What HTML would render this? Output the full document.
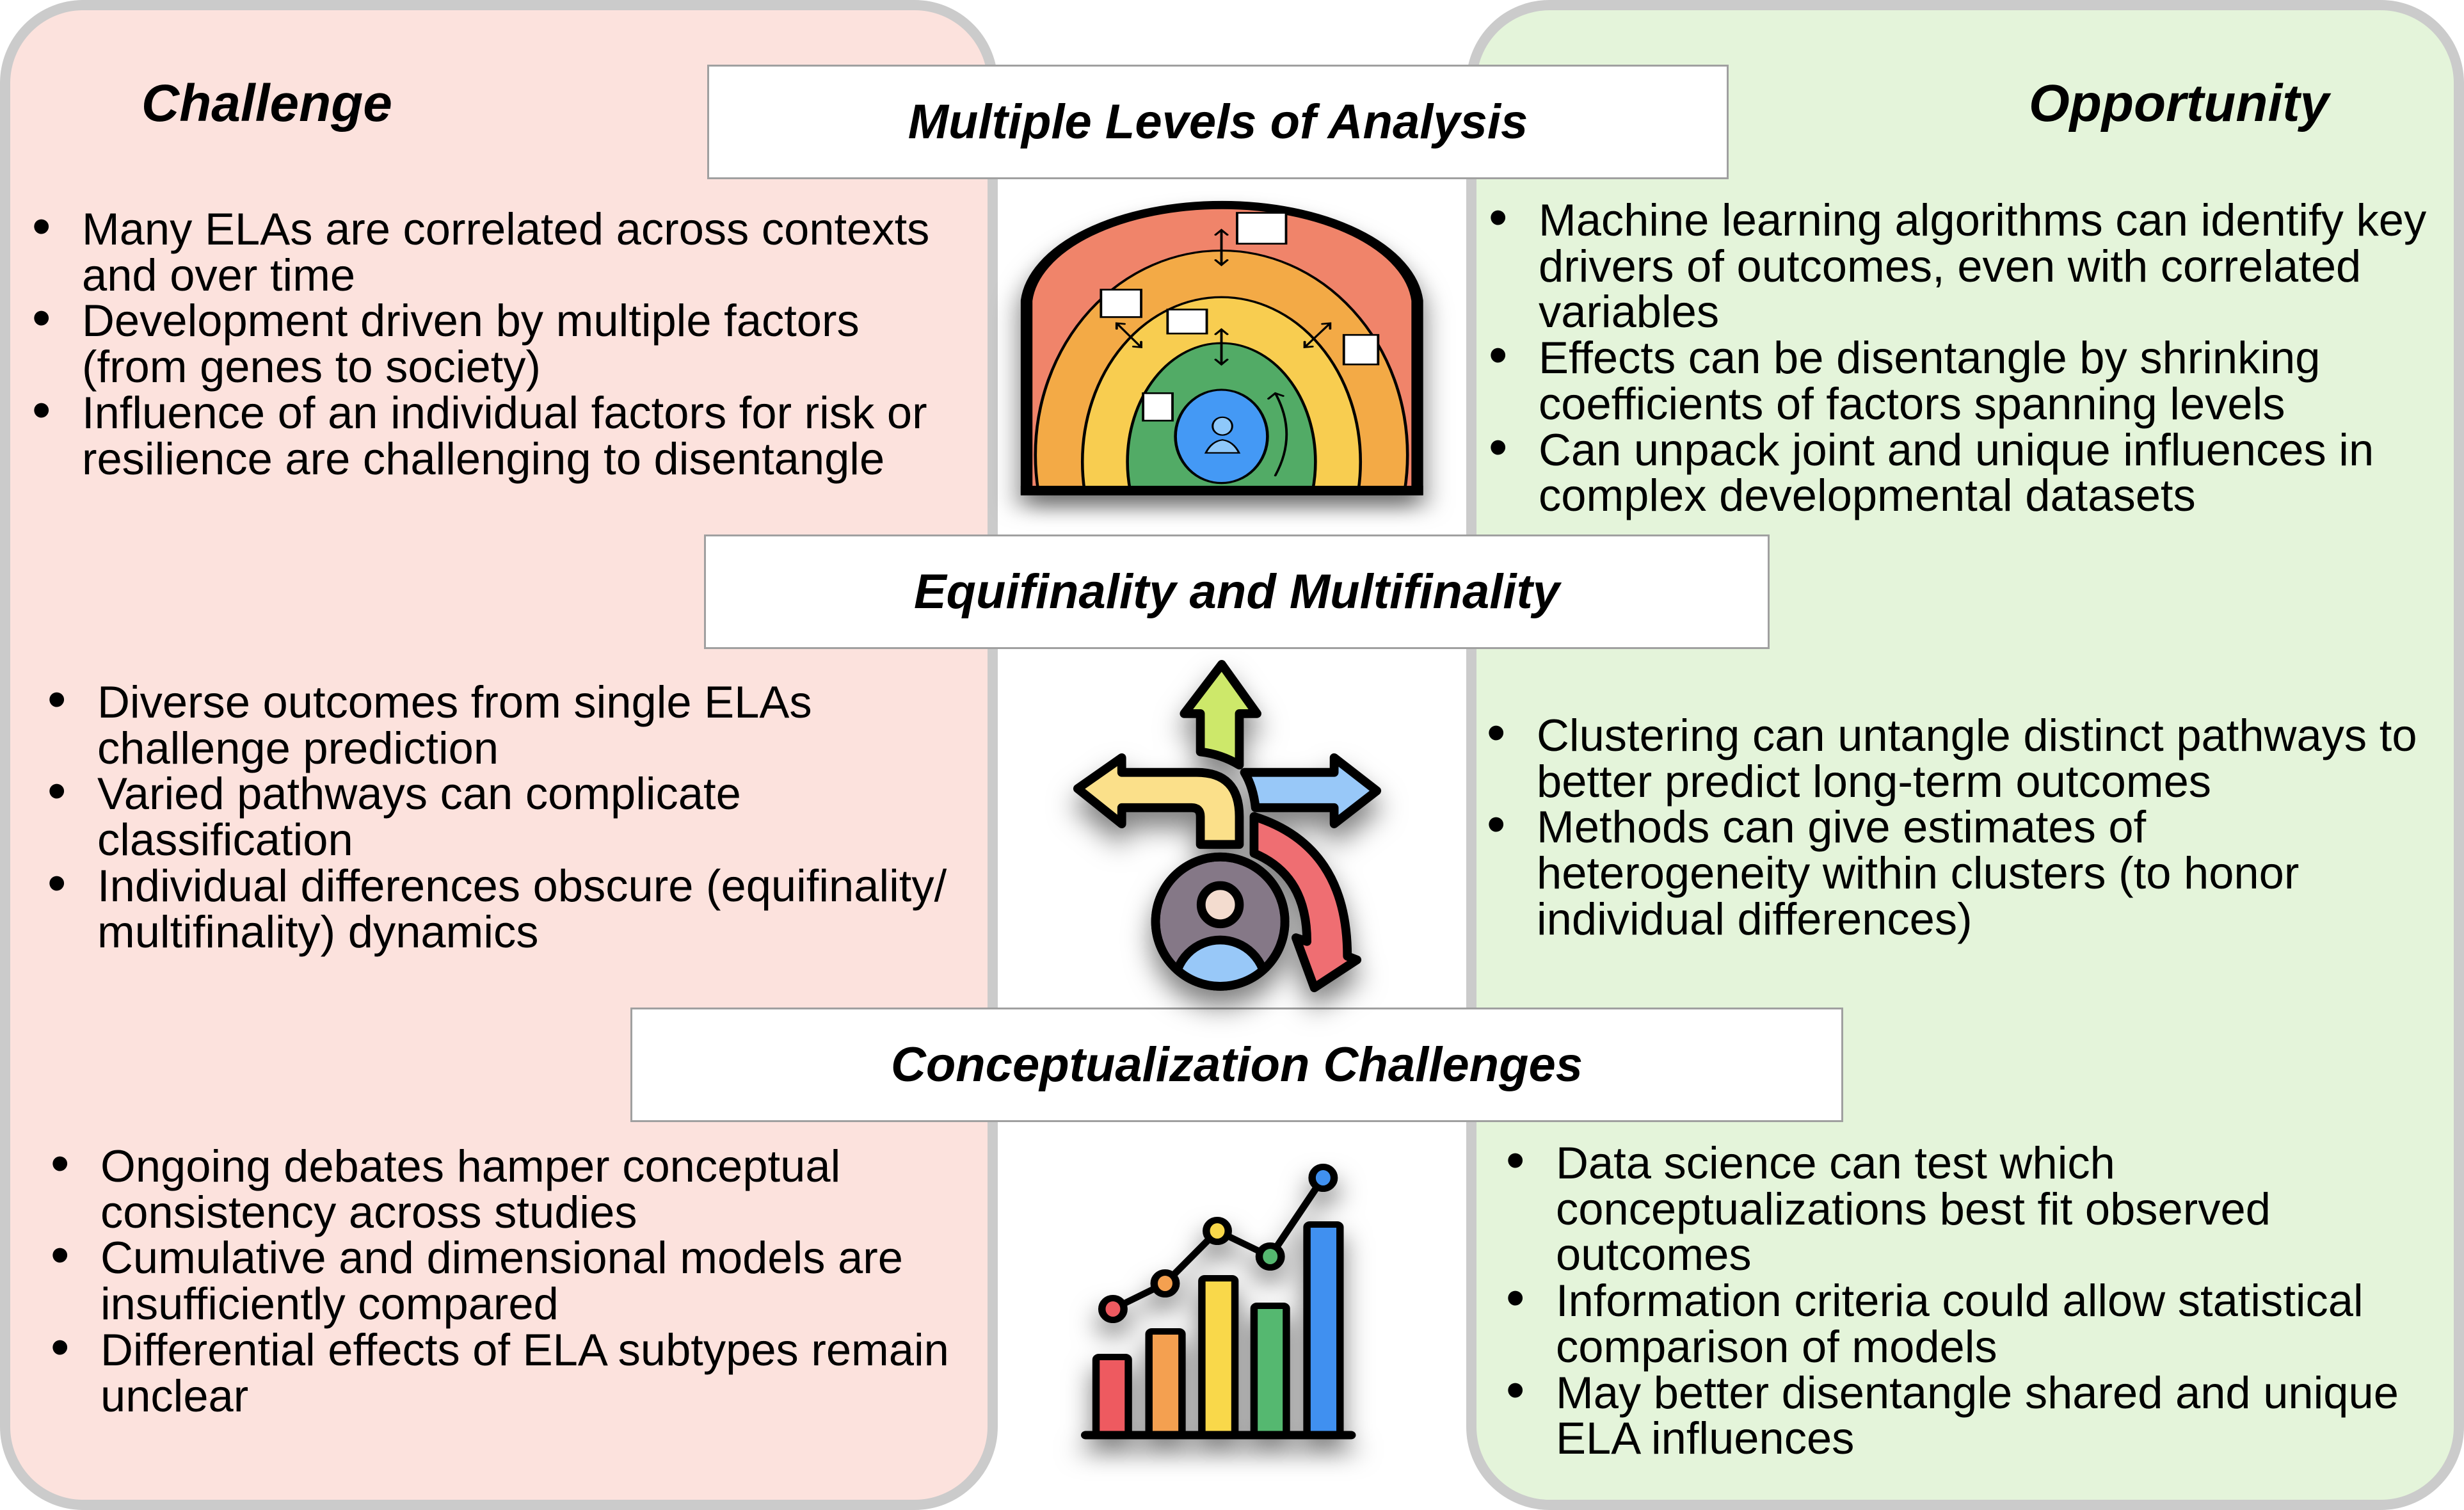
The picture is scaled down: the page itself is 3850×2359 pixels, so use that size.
<!DOCTYPE html>
<html><head><meta charset="utf-8"><style>
html,body{margin:0;padding:0;}
body{width:3850px;height:2359px;position:relative;background:#fff;overflow:hidden;font-family:"Liberation Sans",Arial,sans-serif;color:#000;}
.panel{position:absolute;box-sizing:border-box;border:16px solid #cbcbcb;border-radius:130px;}
.tbox{position:absolute;box-sizing:border-box;background:#fff;border:3px solid #a0a0a0;display:flex;align-items:center;justify-content:center;font-weight:bold;font-style:italic;font-size:76px;white-space:nowrap;}
.hdr{position:absolute;font-weight:bold;font-style:italic;font-size:82px;white-space:nowrap;line-height:1;}
.txt{position:absolute;font-size:70.5px;line-height:71.7px;white-space:nowrap;}
.txt div{position:relative;}
.b{position:absolute;font-size:84px;top:-4px;}
svg{position:absolute;overflow:visible;}
</style></head><body>
<div class="panel" style="left:0;top:0;width:1559px;height:2359px;background:#fce2dd;"></div>
<div class="panel" style="left:2291px;top:0;width:1559px;height:2359px;background:#e4f4da;"></div>

<div class="hdr" style="left:221px;top:121px;">Challenge</div>
<div class="hdr" style="left:3170px;top:121px;">Opportunity</div>

<div class="tbox" style="left:1105px;top:101px;width:1596px;height:179px;">Multiple Levels of Analysis</div>
<div class="tbox" style="left:1100px;top:835px;width:1665px;height:179px;">Equifinality and Multifinality</div>
<div class="tbox" style="left:985px;top:1574px;width:1895px;height:179px;">Conceptualization Challenges</div>

<div class="txt" style="left:128px;top:322px;">
<div><span class="b" style="left:-78px;">•</span>Many ELAs are correlated across contexts</div>
<div>and over time</div>
<div><span class="b" style="left:-78px;">•</span>Development driven by multiple factors</div>
<div>(from genes to society)</div>
<div><span class="b" style="left:-78px;">•</span>Influence of an individual factors for risk or</div>
<div>resilience are challenging to disentangle</div>
</div>
<div class="txt" style="left:152px;top:1061px;">
<div><span class="b" style="left:-78px;">•</span>Diverse outcomes from single ELAs</div>
<div>challenge prediction</div>
<div><span class="b" style="left:-78px;">•</span>Varied pathways can complicate</div>
<div>classification</div>
<div><span class="b" style="left:-78px;">•</span>Individual differences obscure (equifinality/</div>
<div>multifinality) dynamics</div>
</div>
<div class="txt" style="left:157px;top:1786px;">
<div><span class="b" style="left:-78px;">•</span>Ongoing debates hamper conceptual</div>
<div>consistency across studies</div>
<div><span class="b" style="left:-78px;">•</span>Cumulative and dimensional models are</div>
<div>insufficiently compared</div>
<div><span class="b" style="left:-78px;">•</span>Differential effects of ELA subtypes remain</div>
<div>unclear</div>
</div>

<div class="txt" style="left:2404px;top:308px;">
<div><span class="b" style="left:-78px;">•</span>Machine learning algorithms can identify key</div>
<div>drivers of outcomes, even with correlated</div>
<div>variables</div>
<div><span class="b" style="left:-78px;">•</span>Effects can be disentangle by shrinking</div>
<div>coefficients of factors spanning levels</div>
<div><span class="b" style="left:-78px;">•</span>Can unpack joint and unique influences in</div>
<div>complex developmental datasets</div>
</div>
<div class="txt" style="left:2401px;top:1113px;">
<div><span class="b" style="left:-78px;">•</span>Clustering can untangle distinct pathways to</div>
<div>better predict long-term outcomes</div>
<div><span class="b" style="left:-78px;">•</span>Methods can give estimates of</div>
<div>heterogeneity within clusters (to honor</div>
<div>individual differences)</div>
</div>
<div class="txt" style="left:2431px;top:1781px;">
<div><span class="b" style="left:-78px;">•</span>Data science can test which</div>
<div>conceptualizations best fit observed</div>
<div>outcomes</div>
<div><span class="b" style="left:-78px;">•</span>Information criteria could allow statistical</div>
<div>comparison of models</div>
<div><span class="b" style="left:-78px;">•</span>May better disentangle shared and unique</div>
<div>ELA influences</div>
</div>

<!-- Icon 1 -->
<svg style="left:1500px;top:250px;" width="1224" height="600" viewBox="0 0 800 560" preserveAspectRatio="none">
<defs>
<clipPath id="arch"><path d="M68,482 L68,205 A200,150 0 0 1 467,205 L467,482 Z"/></clipPath>
</defs>
<g style="filter:drop-shadow(0 18px 14px rgba(0,0,0,0.55))">
<path d="M68,482 L68,205 A200,150 0 0 1 467,205 L467,482 Z" fill="#f0846a"/>
<g clip-path="url(#arch)" stroke="#000" stroke-width="3">
<ellipse cx="267" cy="430" rx="190" ry="298" fill="#f3aa46"/>
<ellipse cx="267" cy="440" rx="142" ry="240" fill="#f8cd50"/>
<ellipse cx="267" cy="440" rx="96" ry="173" fill="#52ab66"/>
<ellipse cx="267" cy="403" rx="47" ry="68" fill="#4499f5"/>
</g>
<path d="M68,482 L68,205 A200,150 0 0 1 467,205 L467,482 Z" fill="none" stroke="#000" stroke-width="12"/>
<ellipse cx="268" cy="388" rx="10" ry="13" fill="#8ec8fa" stroke="#000" stroke-width="2"/>
<path d="M251,427 Q257,410 268,408 Q279,410 285,427 Z" fill="#8ec8fa" stroke="#000" stroke-width="2"/>
<g fill="#fff" stroke="#000" stroke-width="2.5">
<rect x="283" y="77" width="50" height="45"/>
<rect x="144" y="189" width="41" height="40"/>
<rect x="212" y="218" width="40" height="35"/>
<rect x="392" y="255" width="35" height="43"/>
<rect x="187" y="340" width="30" height="40"/>
</g>
<g stroke="#000" stroke-width="2.5" fill="none" stroke-linecap="round">
<path d="M267,102 L267,153 M261,109 L267,102 L273,109 M261,146 L267,153 L273,146"/>
<path d="M267,247 L267,298 M261,254 L267,247 L273,254 M261,291 L267,298 L273,291"/>
<path d="M160,238 L185,273 M160,246 L160,238 L168,239 M177,272 L185,273 L185,265"/>
<path d="M378,238 L352,273 M370,239 L378,238 L378,246 M352,265 L352,273 L360,272"/>
<path d="M322,460 Q345,400 322,340 M315,348 L322,340 L330,344"/>
</g>
<rect x="62" y="475" width="411" height="14" fill="#000"/>
</g>
</svg>

<!-- Icon 2 -->
<svg style="left:1600px;top:1000px;" width="689" height="689" viewBox="0 0 600 600">
<defs><clipPath id="pc"><circle cx="267" cy="383" r="86"/></clipPath></defs>
<g style="filter:drop-shadow(0 22px 18px rgba(0,0,0,0.5))" stroke="#000" stroke-width="12" stroke-linejoin="round">
<path d="M269,33 L317,100 L293,100 L293,170 Q268,155 240,152 L240,100 L218,100 Z" fill="#cde86a"/>
<path d="M73,202 L133,160 L133,180 L235,180 Q293,180 293,240 L293,278 L240,278 L240,240 Q240,228 228,228 L133,228 L133,250 Z" fill="#fbe08a"/>
<path d="M300,180 L422,180 L422,160 L480,205 L422,250 L422,228 L315,228 Q312,200 300,180 Z" fill="#98c8f8"/>
<path d="M313,240 Q440,280 440,430 L453,435 L395,473 L370,405 L385,410 Q385,320 313,290 Z" fill="#ef6e72"/>
<circle cx="267" cy="383" r="88" fill="#857887"/>
<g clip-path="url(#pc)"><circle cx="267" cy="470" r="62" fill="#98c8f8"/></g>
<circle cx="267" cy="383" r="88" fill="none"/>
<circle cx="267" cy="360" r="26" fill="#f3dccf"/>
</g>
</svg>

<!-- Icon 3 -->
<svg style="left:1600px;top:1780px;" width="689" height="500" viewBox="0 0 600 500" preserveAspectRatio="none">
<g style="filter:drop-shadow(0 22px 18px rgba(0,0,0,0.5))" stroke="#000" stroke-width="10" stroke-linejoin="round" stroke-linecap="round">
<rect x="98" y="340" width="44" height="122" rx="4" fill="#ee5a60"/>
<rect x="170" y="300" width="45" height="162" rx="4" fill="#f4a050"/>
<rect x="242" y="217" width="45" height="245" rx="4" fill="#f9d84a"/>
<rect x="313" y="260" width="44" height="202" rx="4" fill="#55b870"/>
<rect x="385" y="133" width="45" height="329" rx="4" fill="#4090f0"/>
<polyline points="121,265 192,225 263,143 335,183 407,60" fill="none"/>
<ellipse cx="121" cy="265" rx="15" ry="17" fill="#ee5a60"/>
<ellipse cx="192" cy="225" rx="15" ry="17" fill="#f4a050"/>
<ellipse cx="263" cy="143" rx="15" ry="17" fill="#f9d84a"/>
<ellipse cx="335" cy="183" rx="15" ry="17" fill="#55b870"/>
<ellipse cx="407" cy="60" rx="15" ry="17" fill="#4090f0"/>
<line x1="84" y1="462" x2="445" y2="462" stroke-width="13"/>
</g>
</svg>
</body></html>
